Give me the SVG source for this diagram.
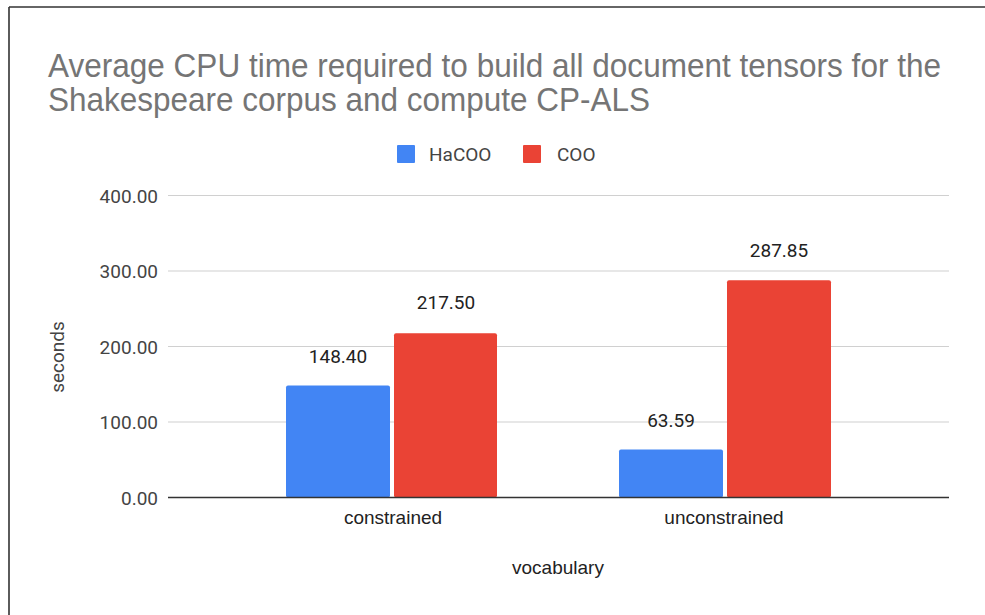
<svg xmlns="http://www.w3.org/2000/svg" width="985" height="615" viewBox="0 0 985 615">
<style>
.title{font-family:"Liberation Sans",Arial,sans-serif;font-size:33px;fill:#757575}
.lbl{font-family:Roboto,"Liberation Sans",sans-serif;font-size:19px;fill:#444}
.val{font-family:Roboto,"Liberation Sans",sans-serif;font-size:19px;fill:#222;text-anchor:middle}
.tick{font-family:Roboto,"Liberation Sans",sans-serif;font-size:19px;fill:#444;text-anchor:end}
.cat{font-family:"Liberation Sans",Arial,sans-serif;font-size:19px;fill:#222;text-anchor:middle}
.grid{stroke:#d0d0d0;stroke-width:1.2}
.blue{fill:#4285F4}
.red{fill:#EA4335}
</style>
<rect x="0" y="0" width="985" height="615" fill="#fff"/>
<g id="frame" fill="none" stroke="#333" stroke-width="1.6">
<line x1="9" y1="7" x2="985" y2="7"/>
<line x1="9" y1="7" x2="9" y2="615"/>
</g>
<g id="title">
<text class="title" x="48" y="77" textLength="893" lengthAdjust="spacingAndGlyphs">Average CPU time required to build all document tensors for the</text>
<text class="title" x="48" y="111" textLength="602" lengthAdjust="spacingAndGlyphs">Shakespeare corpus and compute CP-ALS</text>
</g>
<g id="legend">
<rect class="blue" x="397" y="145" width="18" height="18" rx="1"/>
<text class="lbl" x="429" y="161">HaCOO</text>
<rect class="red" x="523" y="145" width="18" height="18" rx="1"/>
<text class="lbl" x="557" y="161">COO</text>
</g>
<g id="gridlines">
<line class="grid" x1="168" y1="195.5" x2="949" y2="195.5"/>
<line class="grid" x1="168" y1="271" x2="949" y2="271"/>
<line class="grid" x1="168" y1="346.5" x2="949" y2="346.5"/>
<line class="grid" x1="168" y1="422" x2="949" y2="422"/>
</g>
<g id="y-axis">
<text class="tick" x="158" y="203">400.00</text>
<text class="tick" x="158" y="278">300.00</text>
<text class="tick" x="158" y="354">200.00</text>
<text class="tick" x="158" y="429">100.00</text>
<text class="tick" x="158" y="505">0.00</text>
<text class="lbl" x="0" y="0" text-anchor="middle" transform="translate(64 357) rotate(-90)">seconds</text>
</g>
<g id="bar-constrained-hacoo">
<rect class="blue" x="286" y="385.5" width="104" height="112" rx="2"/>
<text class="val" x="338" y="363">148.40</text>
</g>
<g id="bar-constrained-coo">
<rect class="red" x="394" y="333.3" width="103" height="164.2" rx="2"/>
<text class="val" x="446" y="309">217.50</text>
</g>
<g id="bar-unconstrained-hacoo">
<rect class="blue" x="619" y="449.5" width="104" height="48" rx="2"/>
<text class="val" x="671" y="427">63.59</text>
</g>
<g id="bar-unconstrained-coo">
<rect class="red" x="727" y="280.2" width="104" height="217.3" rx="2"/>
<text class="val" x="779" y="257">287.85</text>
</g>
<g id="x-axis">
<line x1="168" y1="497.5" x2="949" y2="497.5" stroke="#333" stroke-width="1.5"/>
<text class="cat" x="393" y="524">constrained</text>
<text class="cat" x="724" y="524">unconstrained</text>
<text class="cat" x="558" y="574">vocabulary</text>
</g>
</svg>
